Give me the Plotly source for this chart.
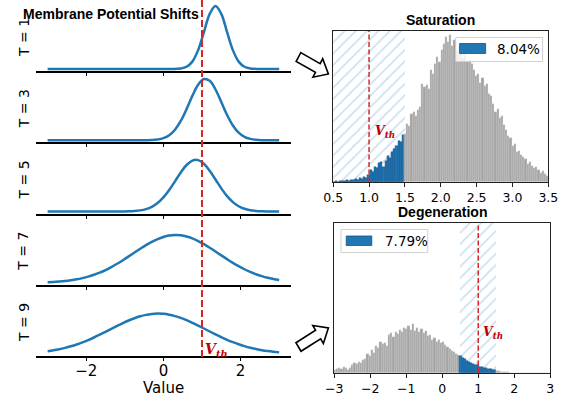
import numpy as np
import plotly.graph_objects as go

W, H = 568, 403

# ---------------- data ----------------
# left panel: sampled membrane-potential curves (x positions shared)
x_grid = np.linspace(-3, 3, 41)
t_labels = ["T = 1", "T = 3", "T = 5", "T = 7", "T = 9"]

curve_t1 = [0] * 22 + [0.0015, 0.0085, 0.037, 0.123, 0.315, 0.615, 0.919, 1.05,
                       0.919, 0.615, 0.315, 0.123, 0.037, 0.0085, 0.0015] + [0] * 4
curve_t3 = [0] * 17 + [0.001, 0.004, 0.013, 0.035, 0.084, 0.175, 0.321, 0.519, 0.739,
                       0.925, 1.020, 0.990, 0.846, 0.637, 0.421, 0.246, 0.126, 0.057,
                       0.023, 0.008, 0.002, 0.001] + [0] * 2
curve_t5 = [0] * 13 + [0.001, 0.003, 0.008, 0.019, 0.040, 0.078, 0.141, 0.234, 0.357,
                       0.503, 0.651, 0.775, 0.849, 0.856, 0.795, 0.678, 0.533, 0.385,
                       0.256, 0.157, 0.088, 0.046, 0.022, 0.010, 0.004, 0.001] + [0] * 2
curve_t7 = [0.010, 0.014, 0.021, 0.030, 0.042, 0.057, 0.077, 0.102, 0.133, 0.169,
            0.212, 0.262, 0.317, 0.376, 0.439, 0.504, 0.567, 0.628, 0.682, 0.728,
            0.763, 0.786, 0.795, 0.790, 0.771, 0.739, 0.695, 0.643, 0.584, 0.521,
            0.456, 0.393, 0.332, 0.276, 0.225, 0.180, 0.142, 0.110, 0.083, 0.062, 0.045]
curve_t9 = [0.047, 0.062, 0.080, 0.102, 0.128, 0.158, 0.193, 0.232, 0.275, 0.321,
            0.369, 0.418, 0.467, 0.514, 0.558, 0.596, 0.628, 0.652, 0.667, 0.673,
            0.669, 0.655, 0.632, 0.601, 0.563, 0.520, 0.473, 0.425, 0.375, 0.327,
            0.281, 0.237, 0.198, 0.163, 0.132, 0.105, 0.083, 0.064, 0.049, 0.037, 0.027]
curves = [curve_t1, curve_t3, curve_t5, curve_t7, curve_t9]
v_th = 1.0

# right panels: histogram counts
sat_start, sat_bin = 0.5, 0.03
sat_counts = [0, 1, 0, 1, 1, 1, 2, 1, 2, 2,
              3, 2, 4, 3, 5, 4, 7, 12, 10, 15,
              14, 19, 20, 15, 21, 26, 24, 30, 33, 36,
              41, 40, 47, 48, 58, 56, 68, 70, 66, 72,
              75, 98, 95, 97, 93, 112, 108, 118, 125, 120,
              132, 138, 145, 140, 147, 136, 142, 131, 135, 128,
              124, 127, 120, 122, 118, 112, 106, 108, 99, 104,
              96, 98, 88, 86, 78, 70, 73, 64, 66, 57,
              52, 46, 44, 36, 38, 30, 31, 27, 25, 23,
              18, 20, 16, 14, 15, 12, 9, 11, 8, 6]
sat_region = [0.5, 1.5]
sat_pct = "8.04%"

deg_start, deg_bin = -3.0, 0.06
deg_counts = [3, 4, 5, 4, 6, 5, 3, 5, 8, 10,
              9, 11, 10, 13, 14, 19, 17, 23, 20, 27,
              25, 31, 29, 30, 27, 38, 40, 36, 41, 39,
              43, 41, 45, 44, 47, 43, 49, 42, 45, 41,
              44, 40, 42, 37, 38, 33, 35, 31, 33, 30,
              31, 28, 26, 24, 22, 21, 19, 18, 17, 15,
              14, 12, 11, 10, 9, 8, 8, 6, 6, 5,
              5, 4, 4, 3, 3, 2, 2, 1, 1, 1,
              1, 0, 0, 0, 0, 0, 0, 0, 0, 0,
              0, 0, 0, 0, 0, 0, 0, 0, 0, 0]
deg_region = [0.5, 1.5]
deg_pct = "7.79%"

left_ticks = [-2, 0, 2]
left_ticktext = ["\u22122", "0", "2"]
sat_ticks = [0.5, 1.0, 1.5, 2.0, 2.5, 3.0, 3.5]
sat_ticktext = ["0.5", "1.0", "1.5", "2.0", "2.5", "3.0", "3.5"]
deg_ticks = [-3, -2, -1, 0, 1, 2, 3]
deg_ticktext = ["\u22123", "\u22122", "\u22121", "0", "1", "2", "3"]

# ---------------- styling helpers ----------------
BLUE = "#1f77b4"
RED = "#d62728"
VRED = "#c00000"
SANS = "DejaVu Sans"
BOLD = "Liberation Sans, Arial"


def px(x):
    return x / W


def py(y):
    return 1 - y / H


fig = go.Figure()

# ---------------- left panel ----------------
left_xdom = [px(27), px(291)]
bottoms = [71, 142.25, 213.5, 284.75, 356]
for i, (lab, vals) in enumerate(zip(t_labels, curves)):
    n = i + 1
    xa = "x" if n == 1 else f"x{n}"
    ya = "y" if n == 1 else f"y{n}"
    fig.add_trace(go.Scatter(x=x_grid, y=vals, mode="lines",
                             line=dict(color=BLUE, width=2.5, shape="spline", smoothing=1.0),
                             xaxis=xa, yaxis=ya, showlegend=False, hoverinfo="skip"))
    b = bottoms[i]
    xkey = "xaxis" if n == 1 else f"xaxis{n}"
    ykey = "yaxis" if n == 1 else f"yaxis{n}"
    fig.layout[xkey] = dict(domain=left_xdom, range=[-3.3, 3.3], anchor=ya,
                            showline=True, linecolor="black", linewidth=2,
                            ticks="outside", ticklen=3, tickwidth=1, tickcolor="black",
                            tickvals=left_ticks, ticktext=left_ticktext,
                            showticklabels=(n == 5), showgrid=False, zeroline=False,
                            ticklabelstandoff=-3,
                            tickfont=dict(family=SANS, size=15, color="black"))
    fig.layout[ykey] = dict(domain=[py(b), py(b - 71)], range=[-0.0333, 1.15], anchor=xa,
                            showline=False, showticklabels=False, ticks="",
                            showgrid=False, zeroline=False)

# ---------------- right panels ----------------
def hist_traces(start, width, counts, region, xa, ya, ymax):
    centers = [start + width * (k + 0.5) for k in range(len(counts))]
    colors = [BLUE if region[0] <= c < region[1] else "rgba(140,140,140,0.8)" for c in centers]
    lines = ["rgba(20,70,120,0.7)" if region[0] <= c < region[1] else "rgba(230,230,230,0.6)"
             for c in centers]
    # hatched highlighted region (behind)
    fig.add_trace(go.Bar(x=[(region[0] + region[1]) / 2], y=[ymax], width=[region[1] - region[0]],
                         marker=dict(color="rgba(0,0,0,0)", line=dict(width=0),
                                     pattern=dict(shape="/", fgcolor="rgba(110,165,210,0.7)",
                                                  size=8, solidity=0.22)),
                         xaxis=xa, yaxis=ya, showlegend=False, hoverinfo="skip"))
    fig.add_trace(go.Bar(x=centers, y=counts, width=[width] * len(counts),
                         marker=dict(color=colors, line=dict(color=lines, width=0.5)),
                         xaxis=xa, yaxis=ya, showlegend=False, hoverinfo="skip"))


hist_traces(sat_start, sat_bin, sat_counts, sat_region, "x6", "y6", 151)
hist_traces(deg_start, deg_bin, deg_counts, deg_region, "x7", "y7", 150)

box = dict(showline=True, mirror=True, linecolor="#222222", linewidth=1.2,
           showgrid=False, zeroline=False)
fig.layout["xaxis6"] = dict(domain=[px(335), px(558)], range=[0.5, 3.5], anchor="y6",
                            ticks="outside", ticklen=3.5, tickcolor="#222222",
                            tickvals=sat_ticks, ticktext=sat_ticktext,
                            tickfont=dict(family=SANS, size=12.5, color="black"), **box)
fig.layout["yaxis6"] = dict(domain=[py(182), py(31)], range=[0, 151], anchor="x6",
                            showticklabels=False, ticks="", **box)
fig.layout["xaxis7"] = dict(domain=[px(336), px(560)], range=[-3, 3], anchor="y7",
                            ticks="outside", ticklen=3.5, tickcolor="#222222",
                            tickvals=deg_ticks, ticktext=deg_ticktext,
                            tickfont=dict(family=SANS, size=12.5, color="black"), **box)
fig.layout["yaxis7"] = dict(domain=[py(373), py(223)], range=[0, 150], anchor="x7",
                            showticklabels=False, ticks="", **box)

# ---------------- shapes ----------------
shapes = []
shapes.append(dict(type="line", xref="x5", yref="paper", x0=v_th, x1=v_th,
                   y0=py(357), y1=1.0, line=dict(color=RED, width=2, dash="7px,3px")))
for xa, ya in (("x6", "y6"), ("x7", "y7")):
    shapes.append(dict(type="line", xref=xa, yref=f"{ya} domain", x0=v_th, x1=v_th,
                       y0=0, y1=1, line=dict(color=RED, width=1.5, dash="5px,2.5px")))

# legend boxes
def legend_box(x0, y0, x1, y1, pxx0, pyy0, pxx1, pyy1):
    shapes.append(dict(type="rect", xref="paper", yref="paper", x0=px(x0), x1=px(x1),
                       y0=py(y1), y1=py(y0), fillcolor="rgba(255,255,255,0.82)",
                       line=dict(color="#d0d0d0", width=1)))
    shapes.append(dict(type="rect", xref="paper", yref="paper", x0=px(pxx0), x1=px(pxx1),
                       y0=py(pyy1), y1=py(pyy0), fillcolor=BLUE,
                       line=dict(color="#15527d", width=0.8)))


legend_box(462, 37.5, 552, 61.5, 466, 43.5, 493, 53.5)
legend_box(343, 229.5, 433, 252.5, 348.5, 236, 375, 245.5)

# arrows
def arrow(tail, tip, shaft=5.0, head=10.5, head_len=12.5):
    tx, ty = tail
    hx, hy = tip
    L = float(np.hypot(hx - tx, hy - ty))
    ux, uy = (hx - tx) / L, (hy - ty) / L
    vx, vy = -uy, ux
    local = [(0, -shaft), (L - head_len, -shaft), (L - head_len, -head), (L, 0),
             (L - head_len, head), (L - head_len, shaft), (0, shaft)]
    pts = [(tx + u * ux + v * vx, ty + u * uy + v * vy) for u, v in local]
    path = "M " + " L ".join(f"{px(a):.5f},{py(b):.5f}" for a, b in pts) + " Z"
    shapes.append(dict(type="path", xref="paper", yref="paper", path=path,
                       fillcolor="white", line=dict(color="black", width=1.6)))


arrow((299, 57), (330, 74))
arrow((299, 347), (330, 328))

# ---------------- annotations ----------------
ann = []


def add_text(text, x, y, size, family=SANS, color="black", xanchor="center", angle=0):
    ann.append(dict(text=text, x=px(x), y=py(y), xref="paper", yref="paper",
                    xanchor=xanchor, yanchor="middle", textangle=angle, showarrow=False,
                    font=dict(family=family, size=size, color=color)))


for i, lab in enumerate(t_labels):
    add_text(lab, 14, bottoms[i] - 33.5, 14, angle=-90)
add_text("<b>Membrane Potential Shifts</b>", 105, 13.5, 14, family=BOLD)
add_text("Value", 159, 388, 15)
add_text("<b>Saturation</b>", 446.5, 20.5, 14, family=BOLD)
add_text("<b>Degeneration</b>", 448, 211.5, 14, family=BOLD)
vth_txt = "<b><i>V</i></b><sub><b><i>th</i></b></sub>"
for (xx, yy, sz) in ((214, 350, 14), (389, 131, 12.5), (501, 332, 12.5)):
    add_text(vth_txt, xx, yy, sz, family="DejaVu Serif", color=VRED)
add_text(sat_pct, 503, 49, 13.5, xanchor="left")
add_text(deg_pct, 386.5, 241, 13.5, xanchor="left")

fig.update_layout(width=W, height=H, margin=dict(l=0, r=0, t=0, b=0),
                  paper_bgcolor="white", plot_bgcolor="rgba(0,0,0,0)",
                  barmode="overlay", bargap=0, showlegend=False,
                  shapes=shapes, annotations=ann)

fig.write_html("out.html")
